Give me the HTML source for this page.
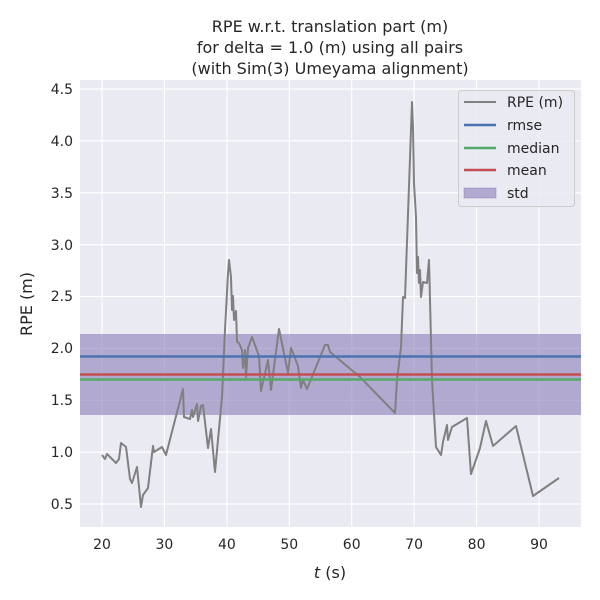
<!DOCTYPE html>
<html><head><meta charset="utf-8"><style>body{margin:0;background:#fff}svg{display:block}</style></head><body>
<svg width="600" height="600" xmlns="http://www.w3.org/2000/svg" font-family="'DejaVu Sans','Liberation Sans',sans-serif">
<rect width="600" height="600" fill="#fff"/>
<rect x="80" y="80" width="501" height="447" fill="#eaeaf2"/>
<g stroke="#fff" stroke-width="1.2">
<line x1="102" y1="80" x2="102" y2="527"/><line x1="164.4" y1="80" x2="164.4" y2="527"/><line x1="226.9" y1="80" x2="226.9" y2="527"/><line x1="289.3" y1="80" x2="289.3" y2="527"/><line x1="351.7" y1="80" x2="351.7" y2="527"/><line x1="414.1" y1="80" x2="414.1" y2="527"/><line x1="476.6" y1="80" x2="476.6" y2="527"/><line x1="539" y1="80" x2="539" y2="527"/>
<line x1="80" y1="89" x2="581" y2="89"/><line x1="80" y1="140.9" x2="581" y2="140.9"/><line x1="80" y1="192.8" x2="581" y2="192.8"/><line x1="80" y1="244.6" x2="581" y2="244.6"/><line x1="80" y1="296.5" x2="581" y2="296.5"/><line x1="80" y1="348.4" x2="581" y2="348.4"/><line x1="80" y1="400.3" x2="581" y2="400.3"/><line x1="80" y1="452.1" x2="581" y2="452.1"/><line x1="80" y1="504" x2="581" y2="504"/>
</g>
<rect x="80" y="334" width="501" height="81" fill="#8172b3" fill-opacity="0.55"/>
<polyline fill="none" stroke="#808080" stroke-width="2" stroke-linejoin="round" points="102,455 105,459 107,454 116,463 119,459 121,443 126,447 130,479 132,483 137,467 141,507 143,495 148,488 153,446 154,452 162,447 166,455 183,389 184,417 190,419 192,410 193,417 197,404 198,421 201,406 203,405 208,448 211,429 215,472 222,397 225,330 228,273 229,260 231,277 232,310 233,296 234,320 236,311 237,342 239,343 242,350 243,368 245,350 246,377 248,348 252,337 259,356 261,391 268,360 271,390 279,329 288,373 291,348 298,366 301,388 303,380 307,389 325,345 328,345 330,352 360,377 395,413 397,380 401,347 403,297 405,298 412,102 413,127 414,183 416,217 417,273 418,257 419,283 420,270 421,297 423,282 427,283 429,260 432,380 436,447 441,455 443,442 447,425 448,440 452,427 467,418 471,474 480,448 486,421 493,446 516,426 533,496 559,478"/>
<line x1="80" y1="356.5" x2="581" y2="356.5" stroke="#4c72b0" stroke-width="2.5"/>
<line x1="80" y1="379.5" x2="581" y2="379.5" stroke="#55a868" stroke-width="2.5"/>
<line x1="80" y1="374.5" x2="581" y2="374.5" stroke="#c44e52" stroke-width="2.5"/>
<g font-size="14" fill="#262626" text-anchor="middle">
<text x="102" y="549">20</text><text x="164.4" y="549">30</text><text x="226.9" y="549">40</text><text x="289.3" y="549">50</text><text x="351.7" y="549">60</text><text x="414.1" y="549">70</text><text x="476.6" y="549">80</text><text x="539" y="549">90</text>
</g>
<g font-size="14" fill="#262626" text-anchor="end">
<text x="73" y="94">4.5</text><text x="73" y="146">4.0</text><text x="73" y="198">3.5</text><text x="73" y="250">3.0</text><text x="73" y="301">2.5</text><text x="73" y="353">2.0</text><text x="73" y="405">1.5</text><text x="73" y="457">1.0</text><text x="73" y="509">0.5</text>
</g>
<text x="330" y="578" font-size="16" fill="#262626" text-anchor="middle"><tspan font-style="italic">t</tspan> (s)</text>
<text x="32" y="304" font-size="16" fill="#262626" text-anchor="middle" transform="rotate(-90 32 304)">RPE (m)</text>
<g font-size="16" fill="#262626" text-anchor="middle">
<text x="330" y="32">RPE w.r.t. translation part (m)</text>
<text x="330" y="53">for delta = 1.0 (m) using all pairs</text>
<text x="330" y="74">(with Sim(3) Umeyama alignment)</text>
</g>
<rect x="458.5" y="90.5" width="116" height="116" rx="3" fill="#eaeaf2" fill-opacity="0.85" stroke="#cccccc"/>
<line x1="464" y1="102" x2="496" y2="102" stroke="#808080" stroke-width="2"/>
<line x1="464" y1="125" x2="496" y2="125" stroke="#4c72b0" stroke-width="2.5"/>
<line x1="464" y1="148" x2="496" y2="148" stroke="#55a868" stroke-width="2.5"/>
<line x1="464" y1="170" x2="496" y2="170" stroke="#c44e52" stroke-width="2.5"/>
<rect x="464" y="188" width="32" height="10" fill="#8172b3" fill-opacity="0.55" stroke="#8172b3" stroke-opacity="0.4"/>
<g font-size="14" fill="#262626">
<text x="507" y="107">RPE (m)</text><text x="507" y="130">rmse</text><text x="507" y="153">median</text><text x="507" y="175">mean</text><text x="507" y="198">std</text>
</g>
</svg>
</body></html>
